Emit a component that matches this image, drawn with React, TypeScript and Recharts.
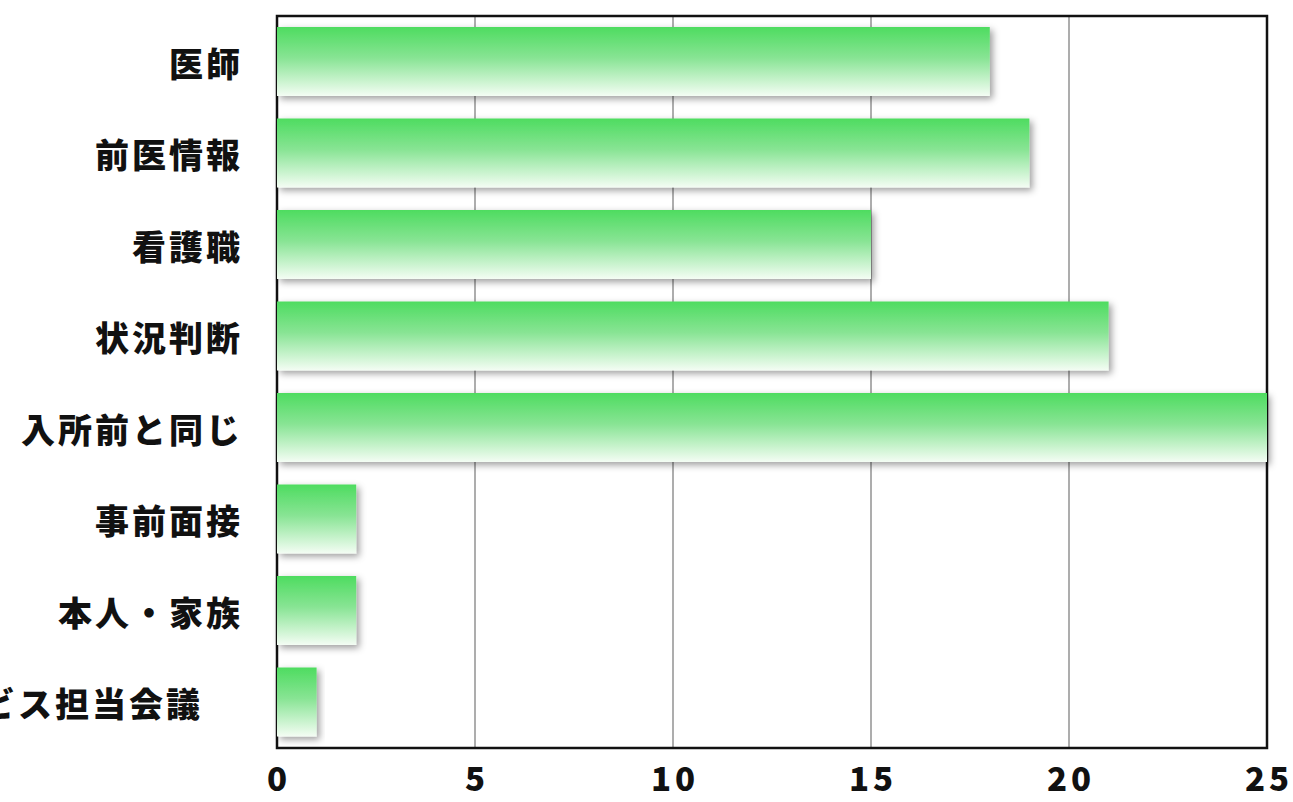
import { Bar, BarChart, CartesianGrid, ReferenceArea, XAxis, YAxis } from "recharts";

const categories = ["医師", "前医情報", "看護職", "状況判断", "入所前と同じ", "事前面接", "本人・家族", "サービス担当会議"];
const counts = [18, 19, 15, 21, 25, 2, 2, 1];
const xTicks = [0, 5, 10, 15, 20, 25];

const data = categories.map((name, i) => ({ name, count: counts[i] }));

const JP_FONT = '"Noto Sans CJK JP", "Noto Sans", sans-serif';

function CategoryTick({ x, y, payload }: any) {
  // the longest label sits further left in the original and runs off the edge
  const shift = String(payload.value).length > 6 ? 40 : 0;
  return (
    <text
      x={x - 26 - shift}
      y={y + 3}
      dy="0.36em"
      textAnchor="end"
      fontFamily={JP_FONT}
      fontWeight={900}
      fontSize={34}
      letterSpacing={3}
      fill="#111"
    >
      {payload.value}
    </text>
  );
}

function ValueTick({ x, y, payload }: any) {
  return (
    <text
      x={x + 2}
      y={y}
      dy={35}
      textAnchor="middle"
      fontFamily={JP_FONT}
      fontWeight={900}
      fontSize={33}
      letterSpacing={4}
      fill="#111"
    >
      {payload.value}
    </text>
  );
}

export default function App() {
  return (
    <div style={{ position: "absolute", left: 0, top: 0, width: 1293, height: 802, background: "#fff" }}>
      <BarChart
        width={1293}
        height={802}
        data={data}
        layout="vertical"
        margin={{ top: 16, right: 26, bottom: 0, left: 0 }}
      >
        <defs>
          <linearGradient id="bar-fill" x1="0" y1="0" x2="0" y2="1">
            <stop offset="0%" stopColor="#4edc60" />
            <stop offset="45%" stopColor="#88e494" />
            <stop offset="100%" stopColor="#f4fdf4" />
          </linearGradient>
          <filter id="bar-shadow" x="-10%" y="-20%" width="130%" height="150%">
            <feDropShadow dx="3" dy="3" stdDeviation="3.5" floodColor="#000" floodOpacity="0.38" />
          </filter>
        </defs>
        <XAxis
          type="number"
          domain={[0, 25]}
          ticks={xTicks}
          axisLine={false}
          tickLine={false}
          height={54}
          tick={<ValueTick />}
          interval={0}
        />
        <YAxis
          type="category"
          dataKey="name"
          width={277}
          axisLine={false}
          tickLine={false}
          tick={<CategoryTick />}
          interval={0}
        />
        <Bar
          dataKey="count"
          barSize={69}
          fill="url(#bar-fill)"
          filter="url(#bar-shadow)"
          isAnimationActive={false}
        />
        <CartesianGrid
          horizontal={false}
          verticalValues={[5, 10, 15, 20]}
          stroke="#777"
          strokeOpacity={0.6}
          strokeWidth={2}
        />
        <ReferenceArea x1={0} x2={25} fill="none" stroke="#111" strokeWidth={2.5} fillOpacity={0} ifOverflow="visible" />
      </BarChart>
    </div>
  );
}
